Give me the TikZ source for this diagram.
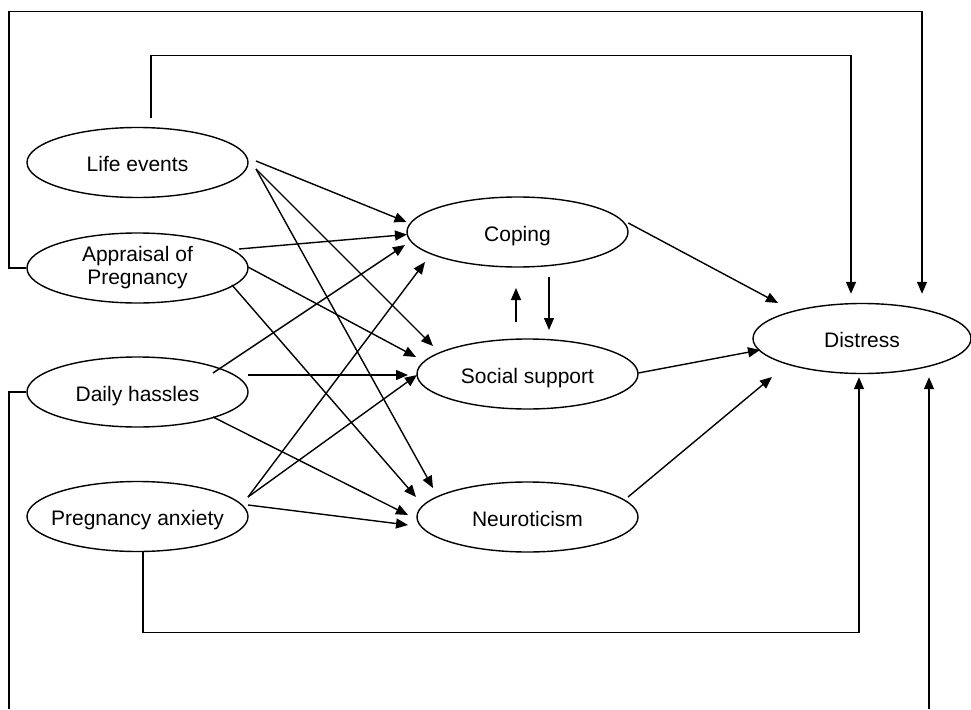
\documentclass[tikz,border=0pt]{standalone}
\usepackage{fontspec}
\setmainfont{Liberation Sans}
\usetikzlibrary{shapes.geometric,arrows.meta,calc}
\begin{document}
\begin{tikzpicture}[x=1pt,y=-1pt,
  lat/.style={draw, ellipse, line width=1.4pt, minimum width=221pt, minimum height=70pt, inner sep=0pt, font=\fontsize{21}{23}\selectfont},
  oneline/.style={text height=18pt, text depth=0pt},
  con/.style={line width=1.4pt},
  arr/.style={con, -{Triangle[length=12pt,width=10pt]}}]
\useasboundingbox (0,0) rectangle (971,709);

% latent variables
\node[lat, oneline] (LE) at (137.5,162.5) {\makebox[0pt]{Life events}};
\node[lat] (AP) at (137.5,268) {\makebox[0pt]{\begin{tabular}{@{}c@{}}Appraisal of\\Pregnancy\end{tabular}}};
\node[lat, oneline] (DH) at (137.5,392) {\makebox[0pt]{Daily hassles}};
\node[lat, oneline] (PA) at (137.5,516.5) {\makebox[0pt]{Pregnancy anxiety}};
\node[lat, oneline] (CO) at (517.5,232) {\makebox[0pt]{Coping}};
\node[lat, oneline] (SS) at (527.5,374) {\makebox[0pt]{Social support}};
\node[lat, oneline] (NE) at (527.5,517) {\makebox[0pt]{Neuroticism}};
\node[lat, oneline, minimum width=218pt] (DI) at (862,338.5) {\makebox[0pt]{Distress}};

% predictors -> mediators
\draw[arr] ($(LE)+(118.5,-1.5)$) -- ($(CO)+(-111,-10)$);
\draw[arr] ($(LE)+(118.5,6.5)$) -- ($(SS)+(-94.5,-28)$);
\draw[arr] ($(LE)+(118.5,6.5)$) -- ($(NE)+(-94.5,-29)$);
\draw[arr] ($(AP)+(101.5,-19)$) -- ($(CO)+(-110.5,2.5)$);
\draw[arr] ($(AP)+(110.5,-1)$) -- ($(SS)+(-111.5,-17)$);
\draw[arr] ($(AP)+(94.5,17)$) -- ($(NE)+(-111.5,-20)$);
\draw[arr] ($(DH)+(75.5,-19)$) -- ($(CO)+(-112.5,13)$);
\draw[arr] ($(DH)+(110.5,-17)$) -- ($(SS)+(-119.5,1)$);
\draw[arr] ($(DH)+(75.5,25)$) -- ($(NE)+(-119.5,-2)$);
\draw[arr] ($(PA)+(110.5,-19.5)$) -- ($(CO)+(-92.5,30)$);
\draw[arr] ($(PA)+(110.5,-19.5)$) -- ($(SS)+(-110.5,1)$);
\draw[arr] ($(PA)+(110.5,-11.5)$) -- ($(NE)+(-119.5,8)$);

% coping <-> social support
\draw[arr] ($(SS)+(-11.5,-52)$) -- ($(CO)+(-1.5,56)$);
\draw[arr] ($(CO)+(31.5,45)$) -- ($(SS)+(21.5,-44)$);

% mediators -> distress
\draw[arr] ($(CO)+(110.8,-9)$) -- ($(DI)+(-84,-35.5)$);
\draw[arr] ($(SS)+(110.8,-1)$) -- ($(DI)+(-102,11.5)$);
\draw[arr] ($(NE)+(100.5,-20)$) -- ($(DI)+(-90,38.5)$);

% direct paths
\coordinate (tl) at (9,11.7);
\draw[arr] (AP.west) -| (tl) -| ($(DI.north)+(60,-9)$);
\draw[arr] ($(LE.north)+(13.5,-9)$) -- ++(0,-62) -| ($(DI.north)+(-11,-9)$);
\draw[arr] ($(PA.south)+(5.5,0)$) -- ++(0,80) -| ($(DI.south)+(-3,3)$);
\coordinate (bl) at (9,709);
\coordinate (br) at (929,709);
\draw[con] (DH.west) -| (bl);
\draw[arr] (br) -- ($(DI.south)+(67,3)$);
\end{tikzpicture}
\end{document}
